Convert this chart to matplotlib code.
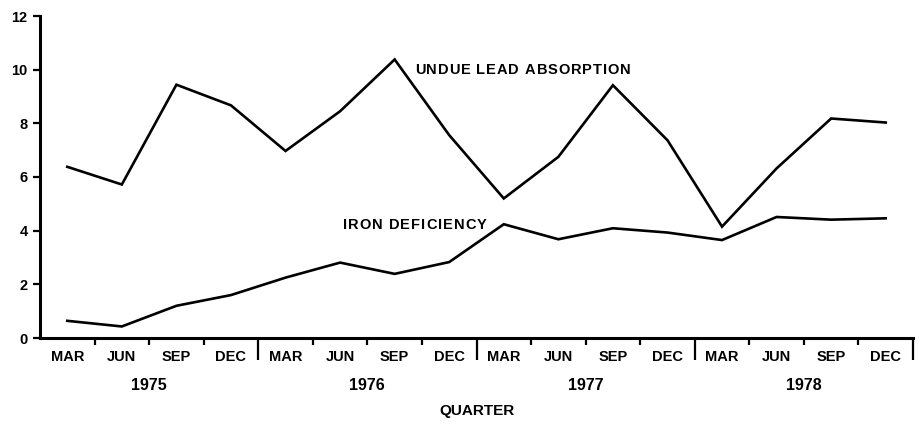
import numpy as np
import matplotlib.pyplot as plt
from matplotlib.ticker import FixedLocator

quarters = ['MAR', 'JUN', 'SEP', 'DEC'] * 4
years = ['1975', '1976', '1977', '1978']
lead = [6.38, 5.72, 9.44, 8.67, 6.97, 8.45, 10.38, 7.56,
        5.20, 6.75, 9.42, 7.37, 4.15, 6.32, 8.18, 8.03]
iron = [0.64, 0.43, 1.20, 1.60, 2.25, 2.81, 2.39, 2.83,
        4.24, 3.68, 4.09, 3.93, 3.65, 4.51, 4.41, 4.46]

plt.rcParams['font.family'] = ['Liberation Sans', 'DejaVu Sans']


def spaced_text(ax, x0, y0, s, track, **kw):
    # draw a string one letter at a time with extra spacing (pixels)
    fig = ax.figure
    renderer = fig.canvas.get_renderer()
    px, py = ax.transData.transform((x0, y0))
    for ch in s:
        xd, yd = ax.transData.inverted().transform((px, py))
        t = ax.text(xd, yd, ch, ha='left', va='center', **kw)
        if ch == ' ':
            w = ax.text(0, 0, 'I', **kw)
            width = w.get_window_extent(renderer).width
            w.remove()
        else:
            width = t.get_window_extent(renderer).width
        px += width + track


fig = plt.figure(figsize=(9.19, 4.29), dpi=100)
ax = fig.add_axes([40/919, 91/429, 873/919, 322/429])

x = np.arange(len(lead))
ax.plot(x, lead, color='black', lw=1.9, solid_joinstyle='miter')
ax.plot(x, iron, color='black', lw=1.9, solid_joinstyle='miter')

ax.set_xlim(-0.5, 15.5)
ax.set_ylim(0, 12)

spaced_text(ax, 6.37, 10.0, 'UNDUE LEAD ABSORPTION', 0.9,
            fontsize=10.5, fontweight='bold')
spaced_text(ax, 5.05, 4.21, 'IRON DEFICIENCY', 1.0,
            fontsize=10.5, fontweight='bold')

ax.spines['top'].set_visible(False)
ax.spines['right'].set_visible(False)
ax.spines['left'].set_linewidth(2.2)
ax.spines['bottom'].set_linewidth(2.2)

ax.set_yticks(np.arange(0, 13, 2))
ax.tick_params(axis='y', length=5, width=1.6, pad=4, labelsize=10.5)
for lbl in ax.get_yticklabels():
    lbl.set_fontweight('bold')

# year dividers as long ticks, quarter dividers as short ones
year_edges = [3.5, 7.5, 11.5, 15.5]
quarter_edges = [q + 0.5 for q in range(15) if q + 0.5 not in year_edges]
ax.xaxis.set_major_locator(FixedLocator(year_edges))
ax.xaxis.set_minor_locator(FixedLocator(quarter_edges))
ax.set_xticklabels([])
ax.tick_params(axis='x', which='major', length=16, width=1.6)
ax.tick_params(axis='x', which='minor', length=5, width=1.6)

tr = ax.get_xaxis_transform()
for i, q in enumerate(quarters):
    ax.text(i, -0.059, q, transform=tr, ha='center', va='center',
            fontsize=10.5, fontweight='bold')
for k, yr in enumerate(years):
    ax.text(4*k + 1.5, -0.146, yr, transform=tr, ha='center', va='center',
            fontsize=11.5, fontweight='bold')
ax.text(7.5, -0.227, 'QUARTER', transform=tr, ha='center', va='center',
        fontsize=11, fontweight='bold')

fig.savefig('out.png', dpi=100)
